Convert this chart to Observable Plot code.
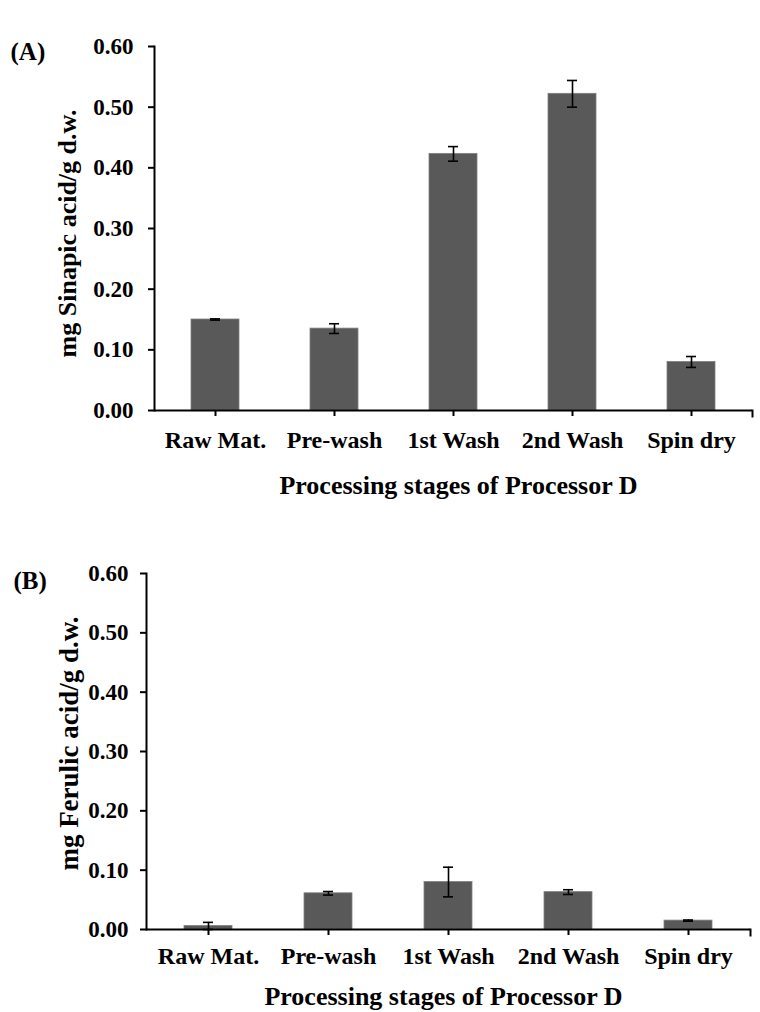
<!DOCTYPE html>
<html>
<head>
<meta charset="utf-8">
<script src="https://cdn.jsdelivr.net/npm/d3@7"></script>
<script src="https://cdn.jsdelivr.net/npm/@observablehq/plot@0.6"></script>
<style>
  html, body { margin: 0; padding: 0; background: #fff; }
  #chart svg { display: block; }
</style>
</head>
<body>
<div id="chart"></div>
<script>
const stages = ["Raw Mat.", "Pre-wash", "1st Wash", "2nd Wash", "Spin dry"];
const sinapic = [0.150, 0.135, 0.423, 0.522, 0.080];
const sinapicErr = [0.001, 0.008, 0.012, 0.022, 0.009];
const ferulic = [0.006, 0.061, 0.080, 0.063, 0.015];
const ferulicErr = [0.006, 0.003, 0.025, 0.004, 0.001];
const yTicks = [0.0, 0.1, 0.2, 0.3, 0.4, 0.5, 0.6];
const xTitle = "Processing stages of Processor D";

const FONT = "'Liberation Serif', 'Times New Roman', serif";

function panel(cfg) {
  const data = stages.map((s, i) => ({stage: s, v: cfg.values[i], e: cfg.errors[i]}));
  const plotH = cfg.height - cfg.marginTop - cfg.marginBottom;
  return Plot.plot({
    width: 760,
    height: cfg.height,
    marginTop: cfg.marginTop,
    marginBottom: cfg.marginBottom,
    marginLeft: cfg.marginLeft,
    marginRight: cfg.marginRight,
    style: `font-family: ${FONT}; font-weight: bold; color: #000; background: #fff;`,
    x: {domain: stages, paddingInner: 0.6, paddingOuter: 0.3},
    y: {domain: [0, 0.6]},
    marks: [
      Plot.barY(data, {x: "stage", y: "v", fill: "#595959", stroke: "#808080", strokeWidth: 0.8}),
      Plot.ruleX(data, {x: "stage", y1: d => d.v - d.e, y2: d => d.v + d.e, stroke: "#000", strokeWidth: 1.6}),
      Plot.tickY(data, {x: "stage", y: d => d.v - d.e, stroke: "#000", strokeWidth: 1.6, insetLeft: 19, insetRight: 19}),
      Plot.tickY(data, {x: "stage", y: d => d.v + d.e, stroke: "#000", strokeWidth: 1.6, insetLeft: 19, insetRight: 19}),
      Plot.axisY({ticks: yTicks, tickFormat: d3.format(".2f"), tickSize: 6, tickPadding: cfg.yTickPad, strokeWidth: 2, fontSize: 23, fontWeight: "bold", label: null}),
      Plot.axisX({tickSize: 6, tickPadding: cfg.xTickPad, strokeWidth: 2, fontSize: 24, fontWeight: "bold", label: null}),
      Plot.ruleY([0], {stroke: "#000", strokeWidth: 2}),
      Plot.frame({anchor: "left", stroke: "#000", strokeWidth: 2}),
      Plot.frame({anchor: "right", stroke: "#000", strokeWidth: 2, insetTop: plotH, insetBottom: -6}),
      Plot.text([cfg.yLabel], {frameAnchor: "left", rotate: -90, textAnchor: "middle", lineAnchor: "middle",
        dx: cfg.yLabelDx, dy: cfg.yLabelDy, fontSize: cfg.yLabelSize, fontWeight: "bold", fill: "#000"}),
      Plot.text([xTitle], {frameAnchor: "bottom", textAnchor: "middle", lineAnchor: "middle",
        dx: cfg.xTitleDx, dy: cfg.xTitleDy, fontSize: 26, fontWeight: "bold", fill: "#000"}),
      Plot.text([cfg.tag], {frameAnchor: "top-left", textAnchor: "start", lineAnchor: "top",
        dx: cfg.tagDx, dy: cfg.tagDy, fontSize: 25, fontWeight: "bold", fill: "#000"})
    ]
  });
}

const chart = document.getElementById("chart");
chart.append(panel({
  values: sinapic, errors: sinapicErr,
  height: 520, marginTop: 46, marginBottom: 110, marginLeft: 154, marginRight: 8,
  yTickPad: 15, xTickPad: 14,
  yLabel: "mg Sinapic acid/g d.w.", yLabelDx: -87, yLabelDy: 5, yLabelSize: 26,
  xTitleDx: 5, xTitleDy: 75,
  tag: "(A)", tagDx: -144, tagDy: -4
}));
chart.append(panel({
  values: ferulic, errors: ferulicErr,
  height: 492, marginTop: 53, marginBottom: 83, marginLeft: 146, marginRight: 10,
  yTickPad: 12, xTickPad: 11,
  yLabel: "mg Ferulic acid/g d.w.", yLabelDx: -77, yLabelDy: -8, yLabelSize: 27,
  xTitleDx: -5, xTitleDy: 67,
  tag: "(B)", tagDx: -133, tagDy: -2
}));
</script>
</body>
</html>
